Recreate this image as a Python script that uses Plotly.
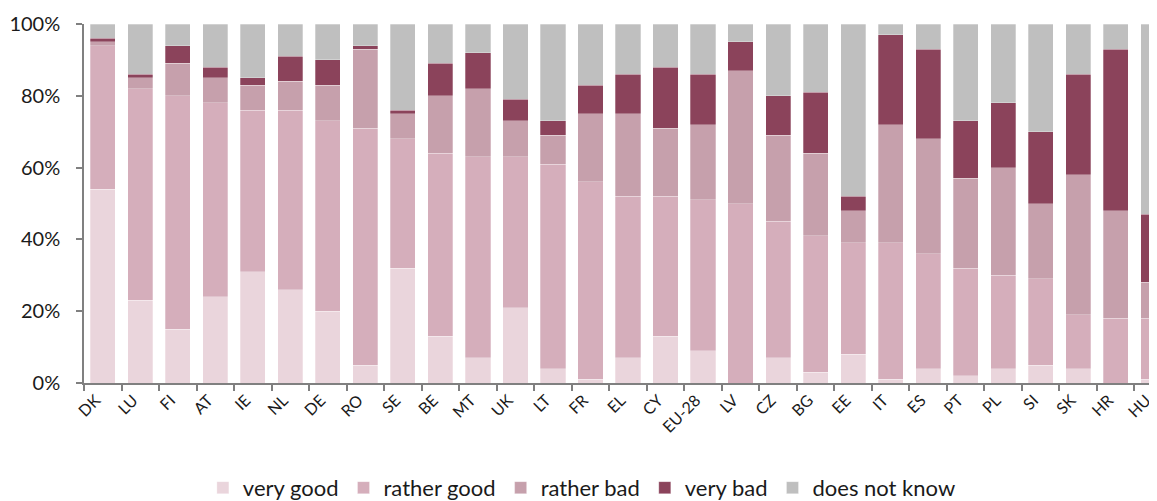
import plotly.graph_objects as go

categories = ["DK", "LU", "FI", "AT", "IE", "NL", "DE", "RO", "SE", "BE", "MT", "UK", "LT", "FR",
              "EL", "CY", "EU-28", "LV", "CZ", "BG", "EE", "IT", "ES", "PT", "PL", "SI", "SK", "HR", "HU"]

very_good =     [54, 23, 15, 24, 31, 26, 20, 5, 32, 13, 7, 21, 4, 1, 7, 13, 9, 0, 7, 3, 8, 1, 4, 2, 4, 5, 4, 0, 1]
rather_good =   [40, 59, 65, 54, 45, 50, 53, 66, 36, 51, 56, 42, 57, 55, 45, 39, 42, 50, 38, 38, 31, 38, 32, 30, 26, 24, 15, 18, 17]
rather_bad =    [1, 3, 9, 7, 7, 8, 10, 22, 7, 16, 19, 10, 8, 19, 23, 19, 21, 37, 24, 23, 9, 33, 32, 25, 30, 21, 39, 30, 10]
very_bad =      [1, 1, 5, 3, 2, 7, 7, 1, 1, 9, 10, 6, 4, 8, 11, 17, 14, 8, 11, 17, 4, 25, 25, 16, 18, 20, 28, 45, 19]
does_not_know = [4, 14, 6, 12, 15, 9, 10, 6, 24, 11, 8, 21, 27, 17, 14, 12, 14, 5, 20, 19, 48, 3, 7, 27, 22, 30, 14, 7, 53]

series = [
    ("very good", very_good, "#EAD5DC"),
    ("rather good", rather_good, "#D5AEBB"),
    ("rather bad", rather_bad, "#C6A0AC"),
    ("very bad", very_bad, "#8B435B"),
    ("does not know", does_not_know, "#BFBFBF"),
]

FONT = "Lato, 'Open Sans', sans-serif"

fig = go.Figure()
for name, vals, color in series:
    fig.add_trace(go.Bar(
        x=categories,
        y=[v / 100 for v in vals],
        name=name,
        marker=dict(color=color, line=dict(width=0.8, color="rgba(255,255,255,0.35)")),
        hoverinfo="x+y+name",
    ))

fig.update_layout(
    barmode="stack",
    bargap=0.33,
    width=1149,
    height=493,
    margin=dict(l=76, r=0, t=16, b=118, autoexpand=False),
    plot_bgcolor="white",
    paper_bgcolor="white",
    font=dict(family=FONT, color="#1a1a1a", size=17),
    showlegend=True,
    legend=dict(
        orientation="h",
        x=0.464, xanchor="center",
        y=-0.292, yanchor="middle",
        font=dict(size=22, family=FONT, color="#1a1a1a"),
        traceorder="normal",
    ),
    xaxis=dict(
        type="category",
        range=[-0.5, 28.1],
        tickmode="array",
        tickvals=categories,
        ticktext=categories,
        showline=True,
        linecolor="#808080",
        linewidth=1.5,
        ticks="outside",
        tickson="boundaries",
        ticklen=6,
        tickwidth=1.5,
        tickcolor="#808080",
        tickangle=-45,
        ticklabelshift=-7,
        tickfont=dict(size=16, family=FONT, color="#1a1a1a"),
        showgrid=False,
        fixedrange=True,
    ),
    yaxis=dict(
        range=[0, 1],
        tickvals=[0, 0.2, 0.4, 0.6, 0.8, 1.0],
        tickformat=".0%",
        showline=True,
        linecolor="#808080",
        linewidth=1.5,
        ticks="outside",
        ticklen=6,
        tickwidth=1.5,
        tickcolor="#808080",
        showgrid=False,
        zeroline=False,
        tickfont=dict(size=20, family=FONT, color="#1a1a1a"),
        ticklabelstandoff=12,
        fixedrange=True,
    ),
)

fig.write_html("out.html")
